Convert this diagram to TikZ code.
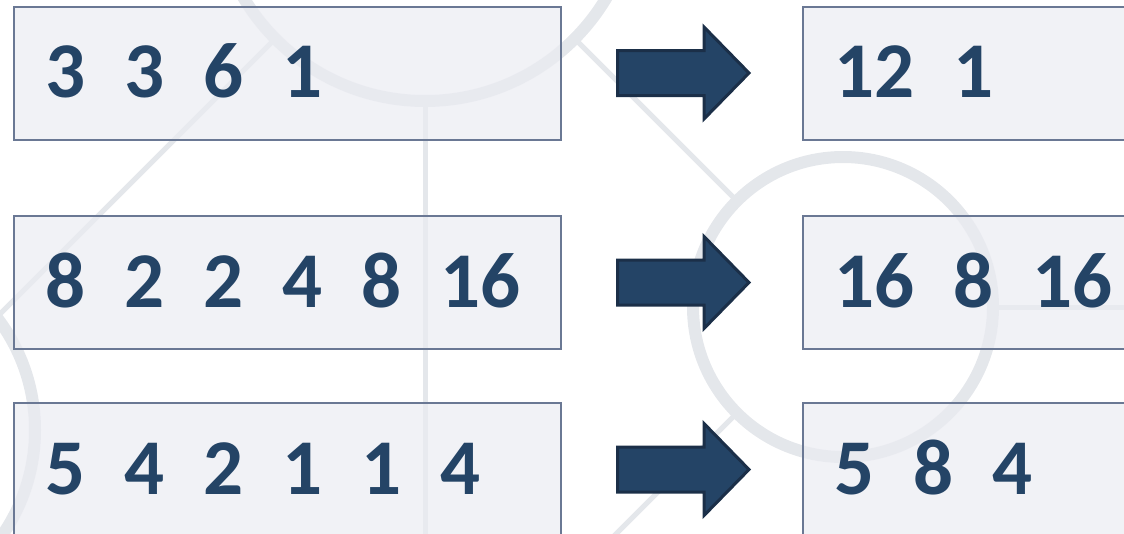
\documentclass[tikz,border=0pt]{standalone}
\usepackage{fontspec}
\setmainfont{Carlito}
\usetikzlibrary{positioning,calc}

\definecolor{decogray}{HTML}{E4E7EB}
\definecolor{boxfill}{HTML}{EBECF2}
\definecolor{boxline}{HTML}{6A7894}
\definecolor{numblue}{HTML}{244466}
\definecolor{arrowline}{HTML}{1B2F48}

\newcommand{\gp}{\hspace*{39pt}}

\begin{document}
\begin{tikzpicture}[x=1pt,y=-1pt,
    numbox/.style={draw=boxline, line width=2pt, fill=boxfill, fill opacity=0.7,
      text opacity=1, text=numblue, minimum width=547pt, minimum height=133pt,
      inner xsep=31pt, text width=485pt, align=left, text height=49pt, text depth=0pt,
      font={\bfseries\fontsize{79}{79}\selectfont}},
    ring/.style={draw=decogray, line width=12pt},
    spoke/.style={draw=decogray, line width=5pt},
    blockarrow/.style={fill=numblue, draw=arrowline, line width=3pt, line join=miter}]
    \clip (0,0) rectangle (1124,533);

    % background circles and lines
    \draw[ring] (425,-110) circle (211);
    \draw[ring] (843,307) circle (150);
    \draw[ring] (-150,430) circle (185);
    \draw[spoke] (275.8,38.2) -- (-10,324);
    \draw[spoke] (574.2,38.2) -- (737,201);
    \draw[spoke] (737,413) -- (600,550);
    \draw[spoke] (425,101) -- (425,540);
    \draw[spoke] (993,307) -- (1130,307);

    % input and output rows
    \node[numbox] (lA) at (287.5,73) {3\gp 3\gp 6\gp 1};
    \node[numbox] (lB) at (287.5,282.5) {8\gp 2\gp 2\gp 4\gp 8\gp 16};
    \node[numbox] (lC) at (287.5,469.5) {5\gp 4\gp 2\gp 1\gp 1\gp 4};
    \node[numbox, right=240pt of lA] (rA) {12\gp 1};
    \node[numbox, right=240pt of lB] (rB) {16\gp 8\gp 16};
    \node[numbox, right=240pt of lC] (rC) {5\gp 8\gp 4};

    \foreach \from/\to in {lA/rA, lB/rB, lC/rC}
      \draw[blockarrow] ($(\from.east)+(55.5,-22.5)$) -- ++(86.5,0) -- ++(0,-23.5)
        -- ($(\to.west)+(-53,0)$) -- ($(\from.east)+(142,46)$) -- ++(0,-23.5)
        -- ++(-86.5,0) -- cycle;
\end{tikzpicture}
\end{document}
